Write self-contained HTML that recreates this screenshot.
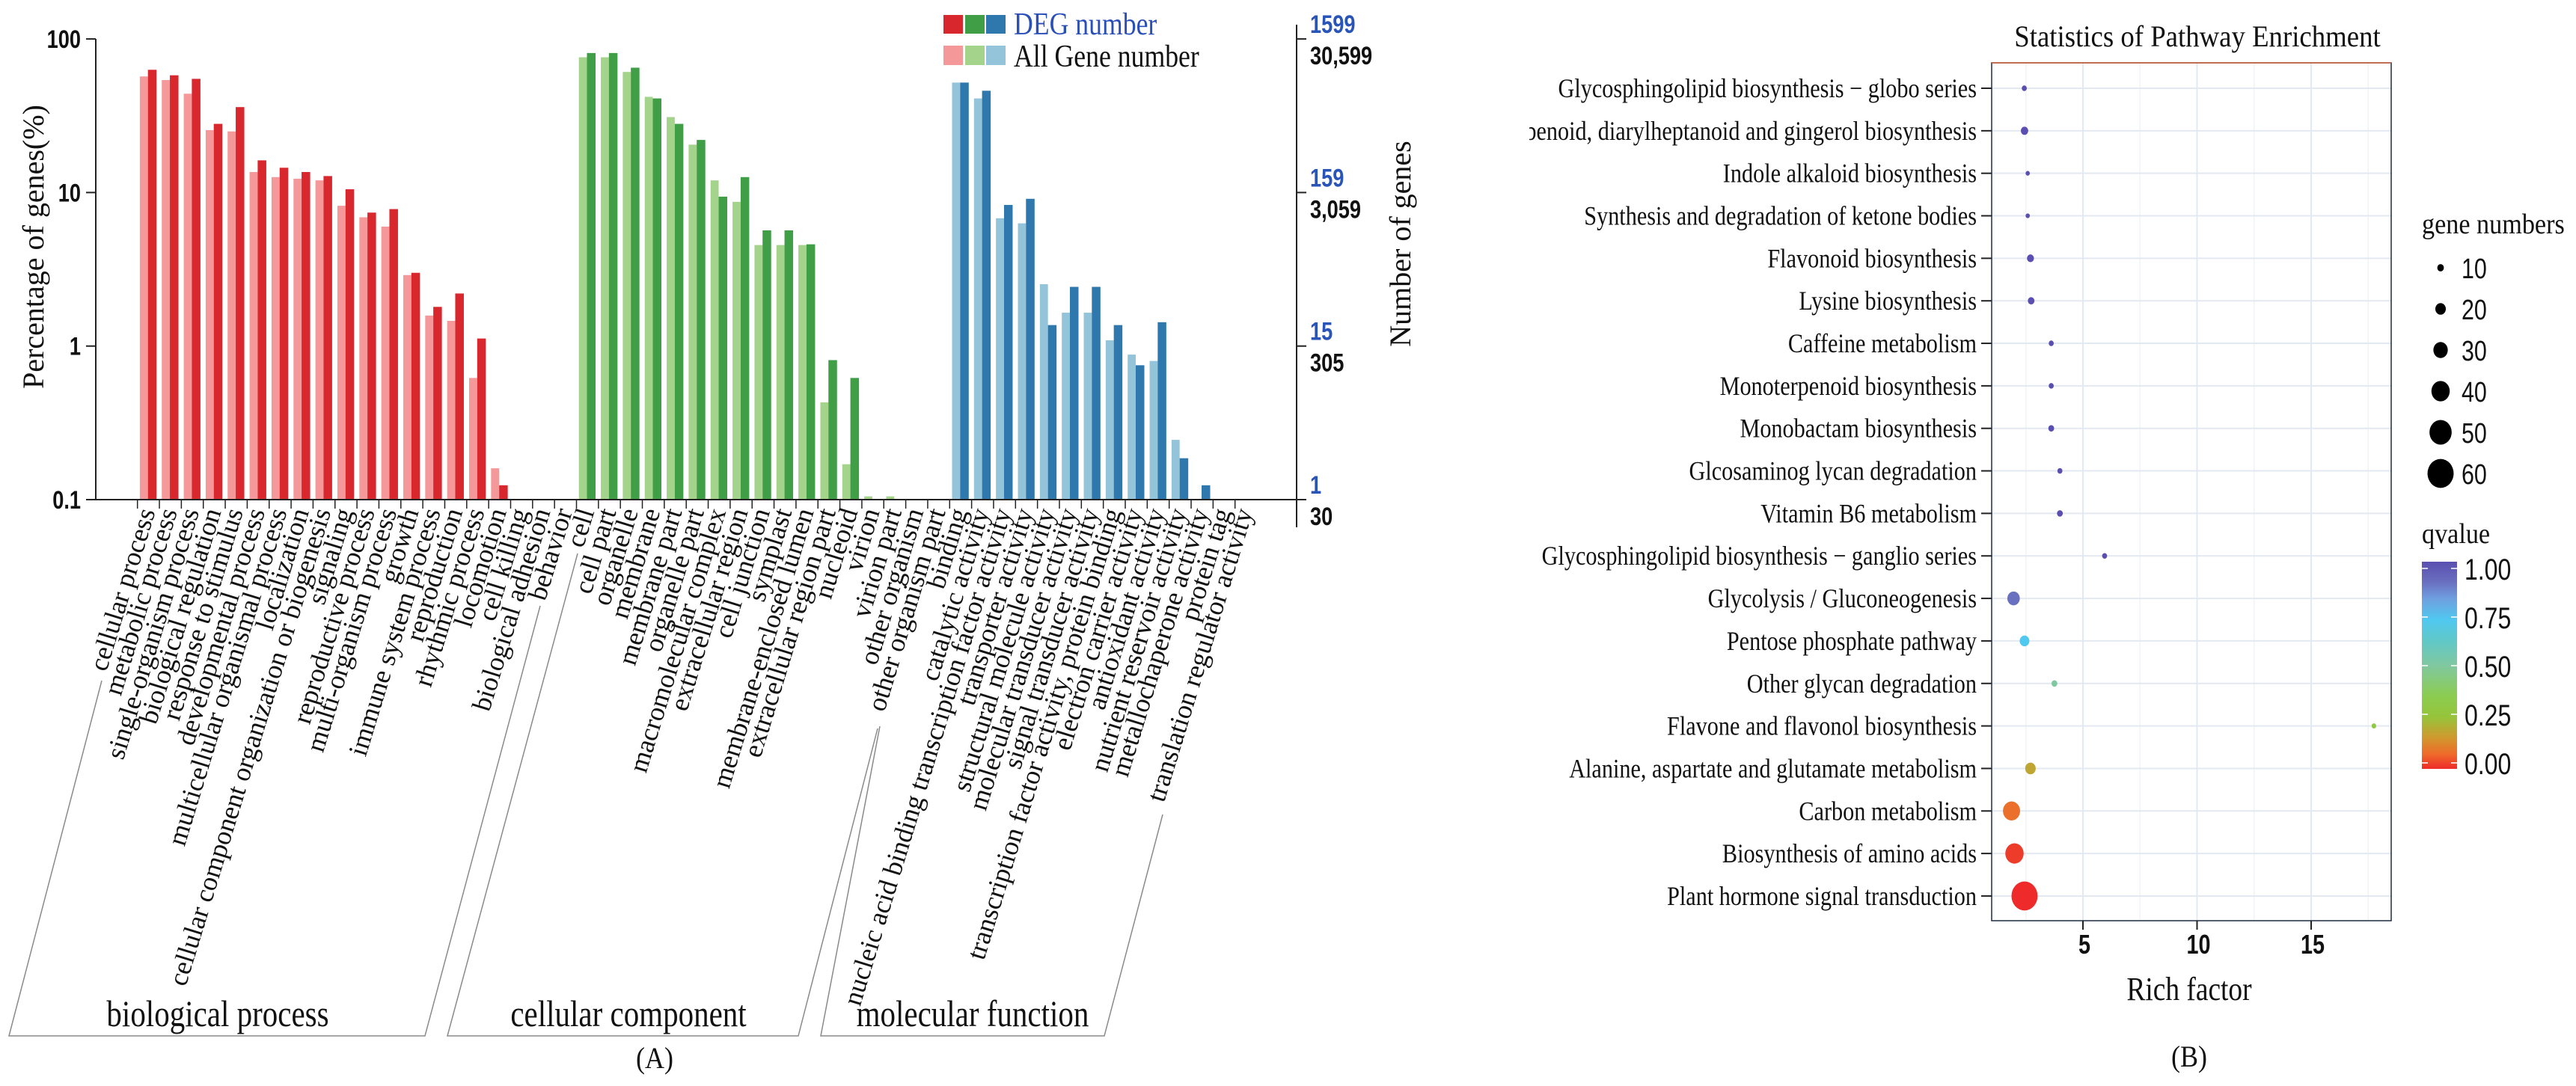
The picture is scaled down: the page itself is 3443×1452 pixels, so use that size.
<!DOCTYPE html>
<html><head><meta charset="utf-8"><style>
html,body{margin:0;padding:0;background:#fff;}
svg{display:block;}
.serif{font-family:"Liberation Serif",serif;}
.sans{font-family:"Liberation Sans",sans-serif;}
</style></head><body>
<svg id="fig" width="3443" height="1452" viewBox="0 0 3443 1452" xmlns="http://www.w3.org/2000/svg">
<rect width="3443" height="1452" fill="#fff"/>
<defs>
<clipPath id="clipB"><rect x="2044" y="0" width="1399" height="1452"/></clipPath>
<linearGradient id="qgrad" x1="0" y1="1" x2="0" y2="0"></linearGradient>
</defs>
<g id="panelA"></g>
<g id="panelB" clip-path="url(#clipB)"></g>
</svg>
<script>
// ---------- Panel A data ----------
const goCategories = ["cellular process","metabolic process","single-organism process","biological regulation","response to stimulus","developmental process","multicellular organismal process","localization","cellular component organization or biogenesis","signaling","reproductive process","multi-organism process","growth","immune system process","reproduction","rhythmic process","locomotion","cell killing","biological adhesion","behavior",
"cell","cell part","organelle","membrane","membrane part","organelle part","macromolecular complex","extracellular region","cell junction","symplast","membrane-enclosed lumen","extracellular region part","nucleoid","virion","virion part","other organism","other organism part",
"binding","catalytic activity","nucleic acid binding transcription factor activity","transporter activity","structural molecule activity","molecular transducer activity","signal transducer activity","transcription factor activity, protein binding","electron carrier activity","antioxidant activity","nutrient reservoir activity","metallochaperone activity","protein tag","translation regulator activity"];
const goGroupSizes = [20,17,14];
const allGenePct = [57,54,44,25.5,25,13.6,12.6,12.3,12,8.2,6.9,6,2.9,1.58,1.46,0.62,0.16,0,0,0,
76,76,61,42,31,20.5,12,8.7,4.55,4.55,4.55,0.43,0.17,0.105,0.105,0,0,
52,41,6.8,6.3,2.53,1.65,1.65,1.09,0.88,0.80,0.245,0,0,0];
const degPct = [63,58,55,28,36,16.2,14.5,13.6,12.8,10.5,7.4,7.8,3.0,1.8,2.2,1.12,0.124,0,0,0,
81,81,65,41,28,22,9.4,12.6,5.67,5.67,4.6,0.81,0.62,0,0,0,0,
52,46,8.3,9.1,1.37,2.43,2.43,1.37,0.75,1.43,0.186,0.124,0,0];
const leftTicks = [100,10,1,0.1];
const leftTickLabels = ["100","10","1","0.1"];
const degTickLabels = ["1599","159","15","1"];
const allTickLabels = ["30,599","3,059","305","30"];

// ---------- Panel B data ----------
const pathways = ["Glycosphingolipid biosynthesis − globo series","benoid, diarylheptanoid and gingerol biosynthesis","Indole alkaloid biosynthesis","Synthesis and degradation of ketone bodies","Flavonoid biosynthesis","Lysine biosynthesis","Caffeine metabolism","Monoterpenoid biosynthesis","Monobactam biosynthesis","Glcosaminog lycan degradation","Vitamin B6 metabolism","Glycosphingolipid biosynthesis − ganglio series","Glycolysis / Gluconeogenesis","Pentose phosphate pathway","Other glycan degradation","Flavone and flavonol biosynthesis","Alanine, aspartate and glutamate metabolism","Carbon metabolism","Biosynthesis of amino acids","Plant hormone signal transduction"];
const richFactor = [2.43,2.44,2.58,2.58,2.70,2.73,3.61,3.61,3.61,3.99,3.99,5.95,1.96,2.44,3.75,17.75,2.70,1.87,2.00,2.44];
const geneNum = [6,12,4,4,11,10,6,6,8,6,8,6,25,18,8,5,20,37,40,60];
const qValue = [1.0,1.0,1.0,1.0,1.0,1.0,1.0,1.0,1.0,1.0,1.0,1.0,0.9,0.72,0.5,0.3,0.18,0.08,0.02,0.0];
const xTicksB = [5,10,15];
const sizeLegend = [10,20,30,40,50,60];
const qLegend = [1.00,0.75,0.50,0.25,0.00];
const qStops = [0,0.07,0.15,0.25,0.35,0.5,0.62,0.72,0.82,0.9,1.0];
const qColors = ["#ee2a2a","#ef6a2a","#d0982e","#96c43a","#8ccc50","#80c8a0","#60c8c8","#50c8f0","#6fa0e0","#6a70c0","#5a4fb0"];

const NS = "http://www.w3.org/2000/svg";
function mk(tag, attrs, parent){
  const e = document.createElementNS(NS, tag);
  for (const k in attrs) e.setAttribute(k, attrs[k]);
  parent.appendChild(e);
  return e;
}
function ctext(parent, x, y, sx, size, cls, fill, anchor, weight){
  const t = mk('text',{transform:'translate('+x+','+y+') scale('+sx+',1)','font-size':size,class:cls,fill:fill,'text-anchor':anchor||'start','font-weight':weight||'normal'},parent);
  return t;
}

// ---------- Panel A ----------
const A = document.getElementById('panelA');
const base = 668, decade = 205.3;
function yA(v){ return base - decade*Math.log10(v/0.1); }
const tick0 = 183.7, pitch = 29.34;
function xA(i){ return tick0 + pitch*i; }
const palettes = [["#f4989a","#d9272e"],["#a4d48c","#3f9e46"],["#94c4d9","#2f78ad"]];
function groupOf(i){ return i < goGroupSizes[0] ? 0 : (i < goGroupSizes[0]+goGroupSizes[1] ? 1 : 2); }

for (let i=0;i<goCategories.length;i++){
  const g = groupOf(i);
  if (allGenePct[i] > 0.1){
    const y = yA(allGenePct[i]);
    const r = mk('rect',{x:xA(i)+3.2,y:y,width:10.8,height:base-y,fill:palettes[g][0]},A);
    
    
  }
  if (degPct[i] > 0.1){
    const y = yA(degPct[i]);
    const r = mk('rect',{x:xA(i)+14,y:y,width:11.5,height:base-y,fill:palettes[g][1]},A);
    
    
  }
  const tk = mk('line',{x1:xA(i),y1:base,x2:xA(i),y2:base+12,stroke:'#222','stroke-width':1.5},A);
  
  
  const t = mk('text',{transform:'translate('+(xA(i)+24)+',684) rotate(-73)','text-anchor':'end','font-size':36,class:'serif',fill:'#111'},A);
  t.textContent = goCategories[i];
  
  
}
// axes
let ax = mk('line',{x1:128,y1:52,x2:128,y2:base,stroke:'#222','stroke-width':2},A);


ax = mk('line',{x1:128,y1:base,x2:1733,y2:base,stroke:'#222','stroke-width':2},A);


ax = mk('line',{x1:1733,y1:33,x2:1733,y2:705,stroke:'#222','stroke-width':2},A);


for (let k=0;k<leftTicks.length;k++){
  const y = yA(leftTicks[k]);
  const l = mk('line',{x1:115,y1:y,x2:128,y2:y,stroke:'#222','stroke-width':2},A);
  
  
  const t = ctext(A,108,y+12,0.8,34,'sans','#111','end','bold');
  t.textContent = leftTickLabels[k];
  
  
  const l2 = mk('line',{x1:1733,y1:y,x2:1746,y2:y,stroke:'#222','stroke-width':2},A);
  
  
  const t1 = ctext(A,1751,y-8,0.8,34,'sans','#2a55b8','start','bold');
  t1.textContent = degTickLabels[k];
  
  
  const t2 = ctext(A,1751,y+34,0.8,34,'sans','#111','start','bold');
  t2.textContent = allTickLabels[k];
  
  
}
</script>
<script>
// static decorations for panel A
(function(){
  const A = document.getElementById('panelA');
  let t = mk('text',{transform:'translate(58,330) rotate(-90)','text-anchor':'middle','font-size':40,class:'serif',fill:'#111'},A);
  t.textContent='Percentage of genes(%)';
  
  
  t = mk('text',{transform:'translate(1885,326) rotate(-90)','text-anchor':'middle','font-size':40,class:'serif',fill:'#111'},A);
  t.textContent='Number of genes';
  
  
  // legend
  const sw = [[1261,"#d9272e","#f4989a"],[1290,"#3f9e46","#a4d48c"],[1318,"#2f78ad","#94c4d9"]];
  for (const s of sw){
    let r = mk('rect',{x:s[0],y:20,width:26,height:25,fill:s[1]},A);
    
    
    r = mk('rect',{x:s[0],y:61,width:26,height:26,fill:s[2]},A);
    
    
  }
  t = ctext(A,1355,46,0.85,42,'serif','#2a4fb8');
  t.textContent='DEG number';
  
  
  t = ctext(A,1355,89,0.85,42,'serif','#111');
  t.textContent='All Gene number';
  
  
  // group boxes
  const boxes = [
    ["biological-process-box","136,910 12,1385 568,1385 722,810",291,"biological process"],
    ["cellular-component-box","772,740 598,1385 1067,1385 1173,974",840,"cellular component"],
    ["molecular-function-box","1176,971 1097,1385 1476,1385 1554,1089",1300,"molecular function"]
  ];
  for (const b of boxes){
    const p = mk('polyline',{points:b[1],fill:'none',stroke:'#8a8a8a','stroke-width':1.5},A);
    
    
    const tt = ctext(A,b[2],1372,0.82,50,'serif','#111','middle');
    tt.textContent=b[3];
    
    
  }
  t = ctext(A,875,1428,0.9,40,'serif','#111','middle');
  t.textContent='(A)';
  
  
})();
</script>
<script>
// ---------- Panel B ----------
(function(){
  const B = document.getElementById('panelB');
  const svg = document.getElementById('fig');
  const L=2662, R=3196, T=84, Bt=1231;
  function xB(v){ return 2631.5 + 30.5*v; }
  function yB(i){ return 118 + 56.84*i; }
  function rB(n){ return 2 + 0.29*n; }
  function hex(c){ return [parseInt(c.substr(1,2),16),parseInt(c.substr(3,2),16),parseInt(c.substr(5,2),16)]; }
  function qColor(q){
    for (let k=0;k<qStops.length-1;k++){
      if (q<=qStops[k+1]){
        const f=(q-qStops[k])/(qStops[k+1]-qStops[k]);
        const a=hex(qColors[k]), b=hex(qColors[k+1]);
        return 'rgb('+a.map((v,j)=>Math.round(v+(b[j]-v)*f)).join(',')+')';
      }
    }
    return qColors[qColors.length-1];
  }
  const minor=[2.5,7.5,12.5,17.5];
  for (const m of minor){ const g=mk('line',{x1:xB(m),y1:T,x2:xB(m),y2:Bt,stroke:'#f0f3f7','stroke-width':1.5},B);
    
     }
  for (const m of xTicksB){ const g=mk('line',{x1:xB(m),y1:T,x2:xB(m),y2:Bt,stroke:'#e3e9f1','stroke-width':2},B);
    
     }
  for (let i=0;i<pathways.length;i++){
    const g=mk('line',{x1:L,y1:yB(i),x2:R,y2:yB(i),stroke:'#e3e9f1','stroke-width':2},B);
    
    
    const tk=mk('line',{x1:2648,y1:yB(i),x2:L,y2:yB(i),stroke:'#222','stroke-width':2},B);
    
    
    const t=ctext(B,2642,yB(i)+12,0.84,36,'serif','#111','end');
    t.textContent=pathways[i];
    
    
  }
  const fr=mk('rect',{x:L,y:T,width:R-L,height:Bt-T,fill:'none',stroke:'#1d2b40','stroke-width':1.5},B);
  
  
  const top=mk('line',{x1:L,y1:T,x2:R,y2:T,stroke:'#d0603a','stroke-width':1.5},B);
  
  
  for (let i=0;i<pathways.length;i++){
    const c=mk('ellipse',{cx:xB(richFactor[i]),cy:yB(i),rx:rB(geneNum[i])*0.9,ry:rB(geneNum[i]),fill:qColor(qValue[i])},B);
    
    
  }
  for (const v of xTicksB){
    const l=mk('line',{x1:xB(v),y1:Bt,x2:xB(v),y2:Bt+12,stroke:'#222','stroke-width':2},B);
    
    
    const t=ctext(B,xB(v)+2,1275,0.8,36,'sans','#111','middle','bold');
    t.textContent=String(v);
    
    
  }
  let t=ctext(B,2926,1337,0.85,44,'serif','#111','middle');
  t.textContent='Rich factor';
  
  
  t=ctext(B,2937,62,0.92,40,'serif','#111','middle');
  t.textContent='Statistics of  Pathway  Enrichment';
  
  
  t=ctext(B,2926,1426,0.9,40,'serif','#111','middle');
  t.textContent='(B)';
  
  
  t=ctext(B,3237,312,0.9,38,'serif','#111');
  t.textContent='gene numbers';
  
  
  for (let k=0;k<sizeLegend.length;k++){
    const cy=358+55*k;
    const d=mk('ellipse',{cx:3262,cy:cy,rx:rB(sizeLegend[k])*0.9,ry:rB(sizeLegend[k]),fill:'#000'},B);
    
    
    const lt=ctext(B,3290,cy+14,0.8,38,'sans','#111');
    lt.textContent=String(sizeLegend[k]);
    
    
  }
  t=ctext(B,3237,726,0.9,38,'serif','#111');
  t.textContent='qvalue';
  
  
  const grad=document.getElementById('qgrad');
  for (let k=0;k<qStops.length;k++){
    mk('stop',{offset:qStops[k],'stop-color':qColors[k]},grad);
  }
  const cb=mk('rect',{x:3237,y:751,width:47,height:277,fill:'url(#qgrad)'},svg);
  
  
  for (const q of qLegend){
    const y=1020-260*q;
    const a=mk('line',{x1:3237,y1:y,x2:3245,y2:y,stroke:'#fff','stroke-width':1.5},svg);
    
    
    const b=mk('line',{x1:3276,y1:y,x2:3284,y2:y,stroke:'#fff','stroke-width':1.5},svg);
    
    
    const lt=ctext(svg,3294,y+15,0.8,40,'sans','#111');
    lt.textContent=q.toFixed(2);
    
    
  }
})();
</script>
</body></html>
